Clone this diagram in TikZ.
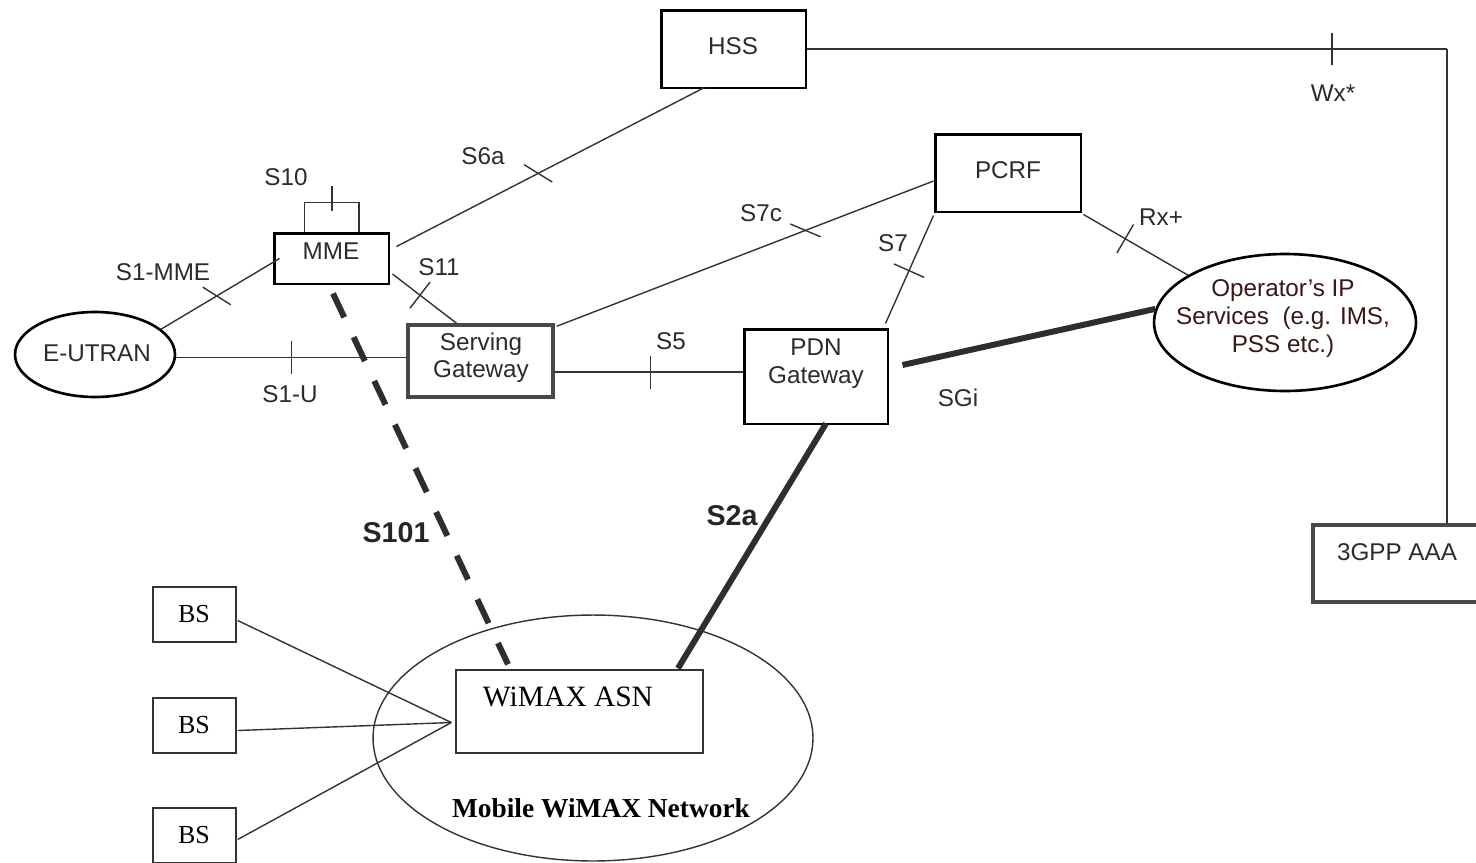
\documentclass[tikz,border=0pt]{standalone}
\usepackage{fontspec}
\setmainfont{Liberation Sans}
\newfontfamily\tnr{Liberation Serif}
\usetikzlibrary{calc,decorations.markings,shapes.geometric}
\definecolor{txt}{HTML}{2B2B2B}
\definecolor{optxt}{HTML}{3A1616}
\definecolor{ln}{HTML}{333333}
\definecolor{gbox}{HTML}{484848}
\begin{document}
\begin{tikzpicture}[x=0.02cm,y=-0.02cm,
  lab/.style={font=\fontsize{13.8pt}{15.5pt}\selectfont, text=txt, inner sep=0pt, align=center},
  boldlab/.style={font=\bfseries\fontsize{16.3pt}{18pt}\selectfont, text=black!85, inner sep=0pt},
  serlab/.style={font=\tnr\fontsize{14.8pt}{17pt}\selectfont, text=black, inner sep=0pt},
  thickbox/.style={draw=black, line width=1.7pt, inner sep=0pt},
  graybox/.style={draw=gbox, line width=2pt, inner sep=0pt},
  thinbox/.style={draw=ln, line width=0.8pt, inner sep=0pt},
  thickell/.style={ellipse, draw=black, line width=1.5pt, inner sep=0pt},
  conn/.style={draw=ln, line width=0.8pt},
  tickat/.style 2 args={postaction={decorate,decoration={markings,mark=at position #1 with {\draw[draw=ln,line width=0.8pt,rotate=#2] (-0.33cm,0) -- (0.33cm,0);}}}},
  heavy/.style={draw=black!82, line width=3.4pt},
  heavydash/.style={draw=black!82, line width=3.4pt, dash pattern=on 15pt off 12.5pt},
]
\useasboundingbox (0,0) rectangle (1476,862);

% boxes
\node[thickbox, minimum width=2.9cm, minimum height=1.56cm] (hss) at (733.5,49) {};
\node[thickbox, minimum width=2.3cm, minimum height=1.02cm] (mme) at (331.5,258.5) {};
\node[graybox, minimum width=2.9cm, minimum height=1.44cm] (sgw) at (480.5,361) {};
\node[thickbox, minimum width=2.88cm, minimum height=1.9cm] (pdn) at (816,376.5) {};
\node[thickbox, minimum width=2.92cm, minimum height=1.56cm] (pcrf) at (1008,173) {};
\node[graybox, minimum width=3.36cm, minimum height=1.54cm] (aaa) at (1397,563.5) {};
\node[thickell, minimum width=3.2cm, minimum height=1.7cm] (eutran) at (95,354.5) {};
\node[thickell, minimum width=5.24cm, minimum height=2.74cm] (ops) at (1285,322.5) {};
\node[ellipse, draw=ln, line width=0.8pt, inner sep=0pt, minimum width=8.8cm, minimum height=4.92cm] (wimax) at (593,738) {};
\node[thinbox, minimum width=4.94cm, minimum height=1.66cm] (asn) at (579.5,711.5) {};
\node[thinbox, minimum width=1.66cm, minimum height=1.1cm] (bs1) at (194.5,614.5) {};
\node[thinbox, minimum width=1.66cm, minimum height=1.1cm] (bs2) at (194.5,725.5) {};
\node[thinbox, minimum width=1.66cm, minimum height=1.1cm] (bs3) at (194.5,835.5) {};

% texts in boxes
\node[lab] (thss) at (733,46) {HSS};
\node[lab] (tmme) at (331,251) {MME};
\node[lab] (tsgw) at (481,357.5) {Serving\\Gateway};
\node[lab, font=\fontsize{13.8pt}{16pt}\selectfont] (tpdn) at (816,364) {PDN\\Gateway};
\node[lab] (tpcrf) at (1008,170) {PCRF};
\node[lab] (taaa) at (1397,552) {3GPP AAA};
\node[lab] (teutran) at (97,353) {E-UTRAN};
\node[lab, text=optxt, font=\fontsize{13.8pt}{15.8pt}\selectfont] (tops) at (1283,318.5) {Operator’s IP\\Services\ \ (e.g. IMS,\\PSS etc.)};
\node[serlab, font=\tnr\fontsize{16.8pt}{19pt}\selectfont] (tasn) at (568,697) {WiMAX ASN};
\node[serlab, font=\tnr\bfseries\fontsize{15.6pt}{17pt}\selectfont] (twimax) at (601,808) {Mobile WiMAX Network};
\node[serlab] (tbs1) at (194,614) {BS};
\node[serlab] (tbs2) at (194,725) {BS};
\node[serlab] (tbs3) at (194,835) {BS};

% connectors
\coordinate (wxc) at (1447,50);
\draw[conn, tickat={0.82}{90}] (hss.east) -- (hss.east -| wxc);
\draw[conn] (hss.east -| wxc) -- (wxc |- aaa.north);

\draw[conn, tickat={0.46}{121}] ($(mme.north east)+(6,15)$) -- ($(hss.south)+(-29,-2)$);

\coordinate (s10l) at ($(mme.north)+(-27,0)$);
\coordinate (s10r) at ($(mme.north)+(27.5,0)$);
\draw[conn] (s10l) -- ++(0,-29) -| (s10r);
\coordinate (s10t) at ($(mme.north)+(0.5,-46)$);
\draw[conn] (s10t) -- ++(0,25);

\draw[conn, tickat={0.47}{117}] (eutran.21) -- ($(mme.west)+(7,0)$);

\coordinate (s1u) at ($(eutran.east)+(0,3)$);
\draw[conn, tickat={0.5}{90}] (s1u) -- (s1u -| sgw.west);

\draw[conn, tickat={0.43}{90}] ($(mme.east)+(2,15.5)$) -- ($(sgw.north)+(-24,0)$);

\draw[conn, tickat={0.66}{136}] ($(sgw.north east)+(2,3)$) -- ($(pcrf.west)+(0,8)$);

\coordinate (s5) at ($(sgw.east)+(0,11)$);
\draw[conn, tickat={0.51}{90}] (s5) -- (s5 -| pdn.west);

\draw[conn, tickat={0.49}{90}] ($(pdn.north east)+(-4,-4)$) -- ($(pcrf.south west)+(0,2)$);

\draw[conn, tickat={0.4}{90}] ($(pcrf.south east)+(1,1)$) -- (ops.154);

\draw[heavy] ($(pdn.east)+(13,-11.5)$) -- (ops.174);

\draw[heavydash] ($(mme.south)+(1.5,8)$) -- ($(asn.north)+(-71.5,-5)$);
\draw[heavy] ($(pdn.south)+(10,-2)$) -- ($(asn.north)+(98.5,-1)$);

\coordinate (conv) at ($(asn.west)+(-4,11)$);
\draw[conn] ($(bs1.east)+(1,6)$) -- (conv);
\draw[conn] ($(bs2.east)+(1,5)$) -- (conv);
\draw[conn] ($(bs3.east)+(1,4)$) -- (conv);

% interface labels
\node[lab] (lwx) at (1333,93) {Wx*};
\node[lab] (ls6a) at (483,156) {S6a};
\node[lab] (ls10) at (286,177) {S10};
\node[lab] (ls1mme) at (163,272) {S1-MME};
\node[lab] (ls11) at (439,267) {S11};
\node[lab] (ls1u) at (290,394) {S1-U};
\node[lab] (ls7c) at (761,213) {S7c};
\node[lab] (ls7) at (893,243) {S7};
\node[lab] (lrx) at (1161,217) {Rx+};
\node[lab] (ls5) at (671,341) {S5};
\node[lab] (lsgi) at (958,398) {SGi};
\node[boldlab] (ls101) at (396,533) {S101};
\node[boldlab] (ls2a) at (732,516) {S2a};
\end{tikzpicture}
\end{document}
